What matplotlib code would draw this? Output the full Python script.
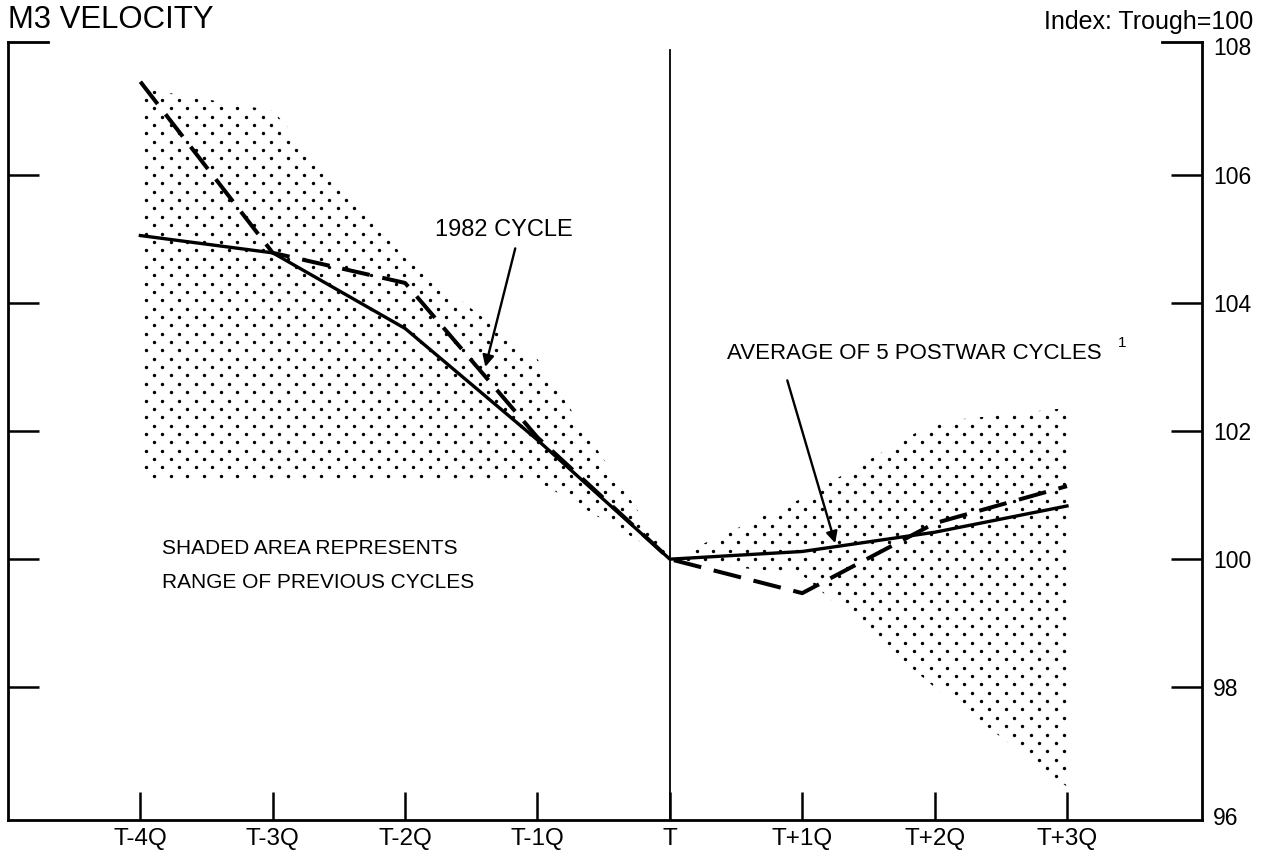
import numpy as np
import matplotlib
matplotlib.use("Agg")
import matplotlib.pyplot as plt
from matplotlib.patches import Polygon

plt.rcParams['font.family'] = ['Liberation Sans', 'DejaVu Sans']

# ---- data ----
quarters = ["T-4Q", "T-3Q", "T-2Q", "T-1Q", "T", "T+1Q", "T+2Q", "T+3Q"]
avg_postwar = [105.05, 104.78, 103.60, 101.86, 100.0, 100.12, 100.42, 100.83]
cycle_1982 = [107.45, 104.78, 104.31, 101.90, 100.0, 99.47, 100.56, 101.14]
range_high = [107.35, 107.00, 104.70, 103.12, 100.0, 100.95, 102.14, 102.36]
range_low = [101.22, 101.22, 101.22, 101.22, 100.0, 99.75, 98.00, 96.45]
yticks = [96, 98, 100, 102, 104, 106, 108]

W, H = 1270, 857
fig = plt.figure(figsize=(W / 100, H / 100), dpi=100)
ax_l, ax_b, ax_w, ax_h = 8, 37, 1194, 778
ax = fig.add_axes([ax_l / W, ax_b / H, ax_w / W, ax_h / H])

x = np.arange(len(quarters)) - 4
ax.set_xlim(-5.0, 4.02)
ax.set_ylim(95.93, 108.07)

# ---- shaded range (dot screen clipped to the range polygon) ----
poly = Polygon(np.column_stack([np.r_[x, x[::-1]],
                                np.r_[range_high, range_low[::-1]]]),
               closed=True, facecolor='none', edgecolor='none',
               transform=ax.transData)
ax.add_patch(poly)
step_x, step_y = 16.7, 8.35
gx, gy = [], []
for i, ry in enumerate(np.arange(2, ax_h, step_y)):
    xs = np.arange(4 + (i % 2) * step_x / 2, ax_w, step_x)
    gx.extend(xs / ax_w)
    gy.extend([ry / ax_h] * len(xs))
dots = ax.scatter(gx, gy, s=6, c='black', linewidths=0,
                  transform=ax.transAxes, zorder=2)
dots.set_clip_path(poly)

# ---- lines ----
ax.axvline(0, ymin=0, ymax=(820 - 50) / ax_h, color='black', lw=1.3, zorder=3)
ax.plot(x, avg_postwar, color='black', lw=2.4, solid_joinstyle='round', zorder=4)
ax.plot(x, cycle_1982, color='black', lw=2.9, dashes=(7, 3.2),
        dash_joinstyle='round', zorder=5)

# ---- axes styling ----
ax.spines['top'].set_visible(False)
for s in ['left', 'right', 'bottom']:
    ax.spines[s].set_linewidth(2.0)
ax.set_xticks(x)
ax.set_xticklabels(quarters)
ax.tick_params(axis='x', direction='in', length=20, width=1.8, pad=6,
               labelsize=17.5)
ax.set_yticks(yticks)
ax.set_yticklabels([str(v) for v in yticks])
ax.tick_params(axis='y', left=True, right=True, labelleft=False,
               labelright=True, direction='in', length=22, width=1.8,
               pad=8, labelsize=16.5)
ticks = ax.yaxis.get_major_ticks()
for t in (ticks[0], ticks[-1]):
    t.tick1line.set_visible(False)
    t.tick2line.set_visible(False)

# short top corner marks
seg = 40 / ax_w
ax.plot([0, seg], [1, 1], transform=ax.transAxes, color='black', lw=2.0,
        clip_on=False, solid_capstyle='projecting')
ax.plot([1 - seg, 1], [1, 1], transform=ax.transAxes, color='black', lw=2.0,
        clip_on=False, solid_capstyle='projecting')

# ---- annotations ----
ax.text(-1.772, 105.13, "1982 CYCLE", fontsize=17, ha='left', va='center')
ax.annotate('', xy=(-1.394, 103.0), xytext=(-1.168, 104.85),
            arrowprops=dict(arrowstyle='-|>', color='black', lw=1.7,
                            mutation_scale=17, shrinkA=0, shrinkB=0))
ax.text(0.434, 103.21, "AVERAGE OF 5 POSTWAR CYCLES", fontsize=16,
        ha='left', va='center')
ax.text(3.387, 103.37, "1", fontsize=11, ha='left', va='center')
ax.annotate('', xy=(1.249, 100.25), xytext=(0.887, 102.79),
            arrowprops=dict(arrowstyle='-|>', color='black', lw=1.7,
                            mutation_scale=17, shrinkA=0, shrinkB=0))
ax.text(-3.834, 100.16, "SHADED AREA REPRESENTS", fontsize=15,
        ha='left', va='center')
ax.text(-3.834, 99.64, "RANGE OF PREVIOUS CYCLES", fontsize=15,
        ha='left', va='center')

# ---- titles ----
fig.text(8 / W, 1 - 20 / H, "M3 VELOCITY", fontsize=22.4, ha='left',
         va='center')
fig.text(1253 / W, 1 - 22 / H, "Index: Trough=100", fontsize=18,
         ha='right', va='center')

fig.savefig("out.png", dpi=100, facecolor='white')
